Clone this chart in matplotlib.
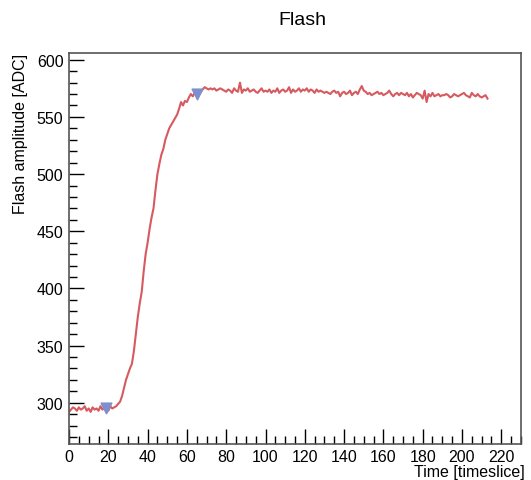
import matplotlib
matplotlib.use("Agg")
import matplotlib.pyplot as plt
from matplotlib.ticker import MultipleLocator

plt.rcParams['font.family'] = ['Liberation Sans', 'DejaVu Sans']

# flash waveform, one value per timeslice (0..213)
amplitude = [
    292, 294, 296, 295, 293, 296, 294, 295, 297, 293,
    295, 292, 296, 294, 295, 293, 297, 294, 296, 296,
    293, 297, 295, 296, 297, 299, 301, 306, 313, 320,
    325, 330, 334, 345, 360, 375, 387, 397, 415, 430,
    440, 452, 462, 470, 486, 500, 509, 517, 522, 530,
    535, 540, 543, 546, 549, 552, 557, 563, 560, 564,
    563, 567, 570, 568, 571, 569, 570, 572, 574, 576,
    575, 574, 575, 574, 575, 573, 574, 575, 574, 573,
    572, 574, 573, 571, 575, 573, 572, 580, 571, 574,
    573, 575, 572, 573, 574, 572, 571, 573, 575, 572,
    573, 572, 574, 571, 573, 572, 575, 571, 573, 574,
    572, 573, 576, 571, 574, 572, 573, 575, 572, 574,
    573, 575, 572, 574, 573, 571, 574, 572, 573, 572,
    571, 572, 571, 570, 572, 573, 571, 572, 568, 571,
    572, 570, 571, 573, 569, 571, 572, 570, 574, 577,
    573, 572, 570, 571, 569, 570, 571, 572, 570, 571,
    569, 570, 571, 573, 570, 568, 570, 571, 569, 571,
    570, 569, 571, 568, 570, 567, 569, 571, 570, 569,
    566, 573, 563, 570, 568, 571, 568, 569, 570, 568,
    569, 569, 570, 569, 567, 568, 570, 569, 568, 569,
    570, 571, 569, 568, 567, 571, 569, 568, 570, 568,
    567, 568, 569, 566,
]
timeslice = list(range(len(amplitude)))

# markers: start of rise and reach of plateau
marker_t = [19, 65]
marker_a = [295, 570]

fig = plt.figure(figsize=(5.31, 4.81), dpi=100)
ax = fig.add_axes([0.130, 0.075, 0.851, 0.813])

ax.plot(timeslice, amplitude, color='#d65a5f', lw=1.5, zorder=2)
ax.scatter(marker_t, marker_a, marker='v', s=60, color='#7d8fcc', zorder=3)

ax.set_xlim(0, 230)
ax.set_ylim(264, 606)
ax.xaxis.set_major_locator(MultipleLocator(20))
ax.xaxis.set_minor_locator(MultipleLocator(5))
ax.yaxis.set_major_locator(MultipleLocator(50))
ax.yaxis.set_minor_locator(MultipleLocator(10))
ax.tick_params(which='both', direction='in', top=False, right=False,
               labelsize=11.5, width=1, color='black')
ax.tick_params(which='major', length=11, pad=4)
ax.tick_params(which='minor', length=6)
for sp in ax.spines.values():
    sp.set_color('#555555')
    sp.set_linewidth(1.2)

ax.set_xlabel("Time [timeslice]", fontsize=11.5, ha='right', labelpad=0)
ax.xaxis.set_label_coords(1.008, -0.052)
ax.set_ylabel("Flash amplitude [ADC]", fontsize=11.5, ha='right')
ax.yaxis.set_label_coords(-0.09, 1.0)

fig.text(0.569, 0.958, "Flash", fontsize=14, ha='center', va='center')

fig.savefig("out.png", dpi=100)
